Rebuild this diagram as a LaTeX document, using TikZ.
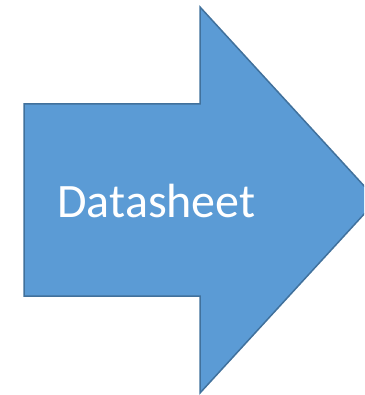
\documentclass[tikz,border=0pt]{standalone}
\usepackage{fontspec}
\setmainfont{Carlito}
\usepackage{xcolor}
\definecolor{arrowfill}{HTML}{5B9BD5}
\definecolor{arrowline}{HTML}{41719C}

\begin{document}
\begin{tikzpicture}[x=1pt,y=-1pt]
    \tikzset{
        blockarrow/.style={fill=arrowfill,draw=arrowline,line width=1.5pt,line join=miter},
        arrowlabel/.style={text=white,font=\fontsize{48}{58}\selectfont,anchor=base,inner sep=0pt}
    }
    \useasboundingbox (0,0) rectangle (364,395);
    \clip (0,0) rectangle (364,395);
    % block arrow pointing right
    \draw[blockarrow] (24,104) -- (200,104) -- (200,7) -- (377,200)
        -- (200,393) -- (200,296) -- (24,296) -- cycle;
    \node[arrowlabel] (label) at (156.5,217) {Datasheet};
\end{tikzpicture}
\end{document}
